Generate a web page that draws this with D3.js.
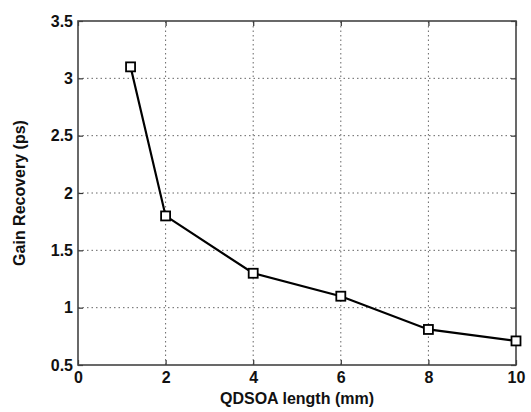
<!DOCTYPE html>
<html>
<head>
<meta charset="utf-8">
<script src="https://cdn.jsdelivr.net/npm/d3@7"></script>
<style>
  body { margin: 0; background: #fff; }
  text { font-family: "Liberation Sans", Arial, sans-serif; font-weight: bold; fill: #111; }
</style>
</head>
<body>
<svg id="chart" width="531" height="412"></svg>
<script>
// data
const lengths = [1.2, 2, 4, 6, 8, 10];
const recovery = [3.1, 1.8, 1.3, 1.1, 0.81, 0.71];
const xTicks = [0, 2, 4, 6, 8, 10];
const yTicks = [0.5, 1, 1.5, 2, 2.5, 3, 3.5];

const margin = { left: 78, top: 21, right: 15, bottom: 47 };
const width = 531, height = 412;

const svg = d3.select('#chart');

const x = d3.scaleLinear().domain([0, 10]).range([margin.left, width - margin.right]);
const y = d3.scaleLinear().domain([0.5, 3.5]).range([height - margin.bottom, margin.top]);

// grid
const grid = svg.append('g');
grid.selectAll('line.vx')
    .data(xTicks.slice(1, -1))
    .enter().append('line')
    .attr('x1', d => x(d)).attr('x2', d => x(d))
    .attr('y1', y(0.5)).attr('y2', y(3.5))
    .attr('stroke', '#666').attr('stroke-width', 1).attr('stroke-dasharray', '1.5,3');
grid.selectAll('line.hy')
    .data(yTicks.slice(1, -1))
    .enter().append('line')
    .attr('y1', d => y(d)).attr('y2', d => y(d))
    .attr('x1', x(0)).attr('x2', x(10))
    .attr('stroke', '#666').attr('stroke-width', 1).attr('stroke-dasharray', '1.5,3');

// axes with inward ticks
svg.append('g')
    .attr('transform', `translate(0,${y(0.5)})`)
    .call(d3.axisBottom(x).tickValues(xTicks).tickSize(-5).tickPadding(7).tickFormat(d3.format('d')));
svg.append('g')
    .attr('transform', `translate(${x(0)},0)`)
    .call(d3.axisLeft(y).tickValues(yTicks).tickSize(-5).tickPadding(5).tickFormat(d => d));

// top/right ticks
svg.append('g')
    .attr('transform', `translate(0,${y(3.5)})`)
    .call(d3.axisTop(x).tickValues(xTicks).tickSize(-5).tickFormat(''));
svg.append('g')
    .attr('transform', `translate(${x(10)},0)`)
    .call(d3.axisRight(y).tickValues(yTicks).tickSize(-5).tickFormat(''));

svg.selectAll('.domain').remove();
svg.selectAll('.tick line').attr('stroke', '#333').attr('stroke-width', 1.2);
svg.selectAll('.tick text')
    .attr('font-family', null).attr('font-size', null)
    .style('font-size', '16px').style('font-weight', 'bold').style('fill', '#111');

// box
svg.append('rect')
    .attr('x', x(0)).attr('y', y(3.5))
    .attr('width', x(10) - x(0)).attr('height', y(0.5) - y(3.5))
    .attr('fill', 'none').attr('stroke', '#444').attr('stroke-width', 1.6);

// line
const pts = lengths.map((d, i) => [d, recovery[i]]);
svg.append('path')
    .datum(pts)
    .attr('fill', 'none').attr('stroke', '#000').attr('stroke-width', 2.2)
    .attr('d', d3.line().x(d => x(d[0])).y(d => y(d[1])));

svg.selectAll('rect.mk')
    .data(pts)
    .enter().append('rect')
    .attr('class', 'mk')
    .attr('x', d => x(d[0]) - 4.5).attr('y', d => y(d[1]) - 4.5)
    .attr('width', 9).attr('height', 9)
    .attr('fill', '#fff').attr('stroke', '#000').attr('stroke-width', 1.8);

// labels
svg.append('text')
    .attr('x', (x(0) + x(10)) / 2).attr('y', 404)
    .attr('text-anchor', 'middle').style('font-size', '16px')
    .text('QDSOA length (mm)');
svg.append('text')
    .attr('transform', `translate(25,${(y(0.5) + y(3.5)) / 2}) rotate(-90)`)
    .attr('text-anchor', 'middle').style('font-size', '16px')
    .text('Gain Recovery (ps)');
</script>
</body>
</html>
